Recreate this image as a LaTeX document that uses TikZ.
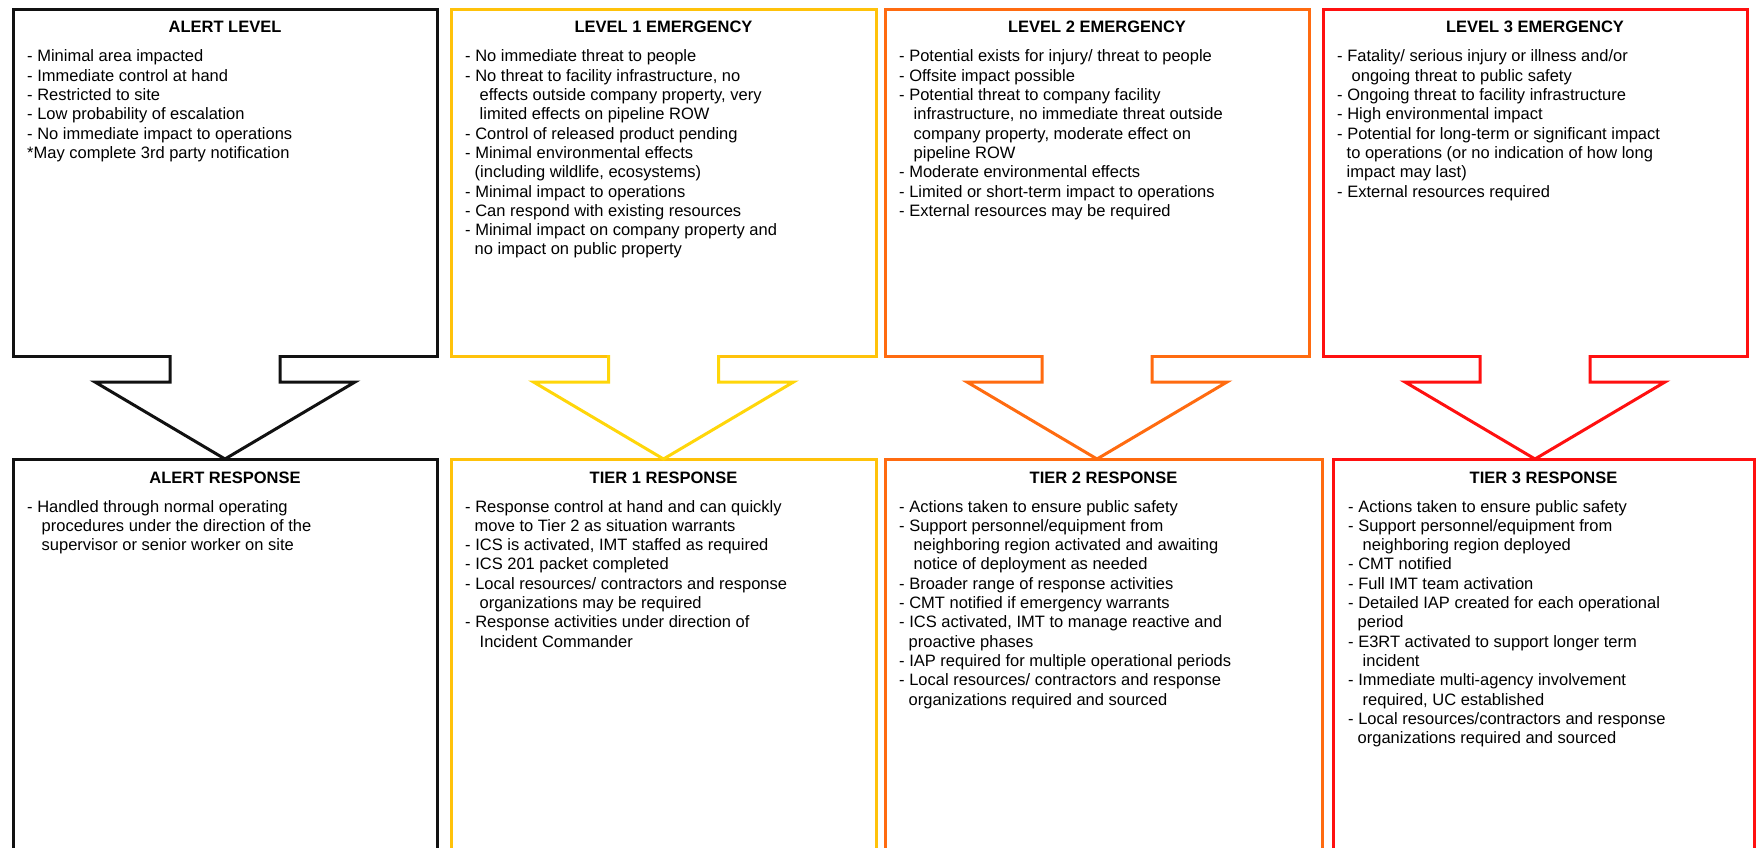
\documentclass[tikz,border=0pt]{standalone}
\usepackage{fontspec}
\setmainfont{Liberation Sans}
\usetikzlibrary{calc}

\definecolor{alertcol}{HTML}{111111}
\definecolor{lvlonecol}{HTML}{FFC20A}
\definecolor{lvlonearrow}{HTML}{FFD60A}
\definecolor{lvltwocol}{HTML}{FF6B10}
\definecolor{lvlthreecol}{HTML}{FF1010}

% hanging indents for wrapped lines of a list item
\newcommand{\ia}{\hspace*{9.5pt}}
\newcommand{\ib}{\hspace*{14.5pt}}

\tikzset{
  box/.style={rectangle, draw=#1, line width=3pt, outer sep=0pt, inner sep=0pt,
              anchor=north west},
  ttl/.style={anchor=base, inner sep=0pt, text=black,
              font=\fontsize{16.5}{19.3}\selectfont\bfseries},
  body/.style={anchor=base west, inner sep=0pt, text=black,
               font=\fontsize{16.5}{19.3}\selectfont},
  blockarrow/.style={draw=#1, line width=3pt, line join=miter, fill=white},
}

% list text set line by line, first baseline at the node anchor
\newcommand{\itemlist}[1]{\parbox[t]{415pt}{\raggedright #1}}

% block arrow from a level box down to its response box
\newcommand{\levelarrow}[3]{%
  \fill[white] ($(#1.south)+(-53.4,-2.2)$) rectangle ($(#1.south)+(53.4,2.2)$);
  \draw[blockarrow=#3]
    ($(#1.south)+(-55,-1.5)$) -- ($(#1.south)+(-55,25.5)$)
    -- ($(#1.south)+(-130,25.5)$) -- (#1.south |- #2.north)
    -- ($(#1.south)+(130,25.5)$) -- ($(#1.south)+(55,25.5)$)
    -- ($(#1.south)+(55,-1.5)$);
}

\begin{document}
\begin{tikzpicture}[x=1pt, y=-1pt]
\useasboundingbox (0,0) rectangle (1756,848);
\clip (0,0) rectangle (1756,848);
\fill[white] (0,0) rectangle (1756,848);

% ---- level boxes (top row)
\node[box=alertcol,    minimum width=424pt, minimum height=347pt] (t0) at (13,9.5) {};
\node[box=lvlonecol,   minimum width=425pt, minimum height=347pt] (t1) at (451,9.5) {};
\node[box=lvltwocol,   minimum width=424pt, minimum height=347pt] (t2) at (885,9.5) {};
\node[box=lvlthreecol, minimum width=424pt, minimum height=347pt] (t3) at (1323,9.5) {};

% ---- response boxes (bottom row, running off the lower edge)
\node[box=alertcol,    minimum width=424pt, minimum height=420pt] (b0) at (13,459) {};
\node[box=lvlonecol,   minimum width=425pt, minimum height=420pt] (b1) at (451,459) {};
\node[box=lvltwocol,   minimum width=437pt, minimum height=420pt] (b2) at (885,459) {};
\node[box=lvlthreecol, minimum width=421pt, minimum height=420pt] (b3) at (1333,459) {};

% ---- arrows
\levelarrow{t0}{b0}{alertcol}
\levelarrow{t1}{b1}{lvlonearrow}
\levelarrow{t2}{b2}{lvltwocol}
\levelarrow{t3}{b3}{lvlthreecol}

% ---- titles
\node[ttl] (t0h) at ($(t0.north)+(0,23.5)$) {ALERT LEVEL};
\node[ttl] (t1h) at ($(t1.north)+(0,23.5)$) {LEVEL 1 EMERGENCY};
\node[ttl] (t2h) at ($(t2.north)+(0,23.5)$) {LEVEL 2 EMERGENCY};
\node[ttl] (t3h) at ($(t3.north)+(0,23.5)$) {LEVEL 3 EMERGENCY};
\node[ttl] (b0h) at ($(b0.north)+(0,24)$) {ALERT RESPONSE};
\node[ttl] (b1h) at ($(b1.north)+(0,24)$) {TIER 1 RESPONSE};
\node[ttl] (b2h) at ($(b2.north)+(0,24)$) {TIER 2 RESPONSE};
\node[ttl] (b3h) at ($(b3.north)+(0,24)$) {TIER 3 RESPONSE};

% ---- level descriptions
\node[body] (t0l) at ($(t0.north west)+(14,52.5)$) {\itemlist{%
- Minimal area impacted\\
- Immediate control at hand\\
- Restricted to site\\
- Low probability of escalation\\
- No immediate impact to operations\\
{}*May complete 3rd party notification}};

\node[body] (t1l) at ($(t1.north west)+(14,52.5)$) {\itemlist{%
- No immediate threat to people\\
- No threat to facility infrastructure, no\\
\ib effects outside company property, very\\
\ib limited effects on pipeline ROW\\
- Control of released product pending\\
- Minimal environmental effects\\
\ia (including wildlife, ecosystems)\\
- Minimal impact to operations\\
- Can respond with existing resources\\
- Minimal impact on company property and\\
\ia no impact on public property}};

\node[body] (t2l) at ($(t2.north west)+(14,52.5)$) {\itemlist{%
- Potential exists for injury/ threat to people\\
- Offsite impact possible\\
- Potential threat to company facility\\
\ib infrastructure, no immediate threat outside\\
\ib company property, moderate effect on\\
\ib pipeline ROW\\
- Moderate environmental effects\\
- Limited or short-term impact to operations\\
- External resources may be required}};

\node[body] (t3l) at ($(t3.north west)+(14,52.5)$) {\itemlist{%
- Fatality/ serious injury or illness and/or\\
\ib ongoing threat to public safety\\
- Ongoing threat to facility infrastructure\\
- High environmental impact\\
- Potential for long-term or significant impact\\
\ia to operations (or no indication of how long\\
\ia impact may last)\\
- External resources required}};

% ---- response descriptions
\node[body] (b0l) at ($(b0.north west)+(14,53)$) {\itemlist{%
- Handled through normal operating\\
\ib procedures under the direction of the\\
\ib supervisor or senior worker on site}};

\node[body] (b1l) at ($(b1.north west)+(14,53)$) {\itemlist{%
- Response control at hand and can quickly\\
\ia move to Tier 2 as situation warrants\\
- ICS is activated, IMT staffed as required\\
- ICS 201 packet completed\\
- Local resources/ contractors and response\\
\ib organizations may be required\\
- Response activities under direction of\\
\ib Incident Commander}};

\node[body] (b2l) at ($(b2.north west)+(14,53)$) {\itemlist{%
- Actions taken to ensure public safety\\
- Support personnel/equipment from\\
\ib neighboring region activated and awaiting\\
\ib notice of deployment as needed\\
- Broader range of response activities\\
- CMT notified if emergency warrants\\
- ICS activated, IMT to manage reactive and\\
\ia proactive phases\\
- IAP required for multiple operational periods\\
- Local resources/ contractors and response\\
\ia organizations required and sourced}};

\node[body] (b3l) at ($(b3.north west)+(15,53)$) {\itemlist{%
- Actions taken to ensure public safety\\
- Support personnel/equipment from\\
\ib neighboring region deployed\\
- CMT notified\\
- Full IMT team activation\\
- Detailed IAP created for each operational\\
\ia period\\
- E3RT activated to support longer term\\
\ib incident\\
- Immediate multi-agency involvement\\
\ib required, UC established\\
- Local resources/contractors and response\\
\ia organizations required and sourced}};
\end{tikzpicture}
\end{document}
